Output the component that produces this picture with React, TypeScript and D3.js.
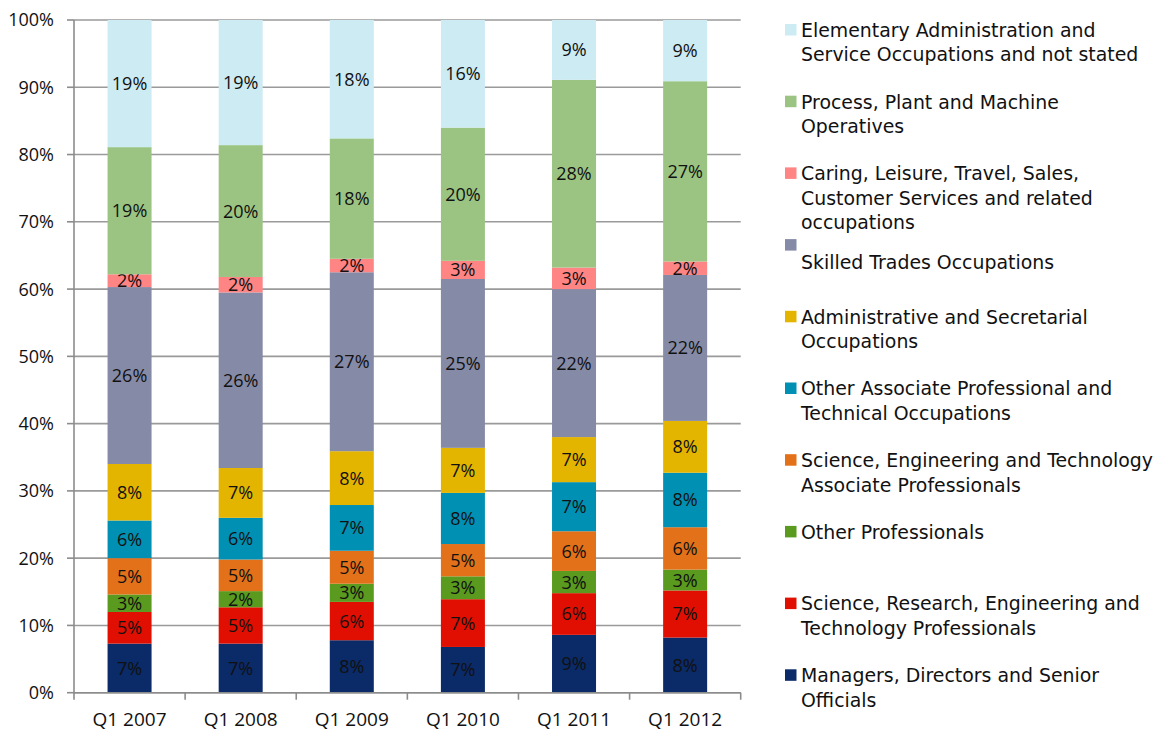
import React from "react";
import * as d3 from "d3";

const categories = ["Q1 2007", "Q1 2008", "Q1 2009", "Q1 2010", "Q1 2011", "Q1 2012"];

const managers = [7.3, 7.3, 7.8, 6.8, 8.6, 8.2];
const sciResearch = [4.7, 5.4, 5.7, 7.1, 6.2, 7.0];
const otherProf = [2.6, 2.4, 2.7, 3.4, 3.3, 3.1];
const sciEngAssoc = [5.4, 4.7, 4.9, 4.8, 5.9, 6.3];
const otherAssoc = [5.6, 6.2, 6.8, 7.6, 7.3, 8.1];
const admin = [8.4, 7.4, 8.0, 6.7, 6.7, 7.7];
const skilled = [26.3, 26.1, 26.6, 25.1, 22.0, 21.7];
const caring = [1.9, 2.3, 2.0, 2.7, 3.2, 2.0];
const process = [18.9, 19.6, 17.9, 19.8, 27.9, 26.8];
const elementary = [18.9, 18.6, 17.6, 16.0, 8.9, 9.1];

const yTicks = [0, 10, 20, 30, 40, 50, 60, 70, 80, 90, 100];

const series = [
  { name: ["Managers, Directors and Senior", "Officials"], values: managers, color: "#0A2A68" },
  { name: ["Science, Research, Engineering and", "Technology Professionals"], values: sciResearch, color: "#E10F02" },
  { name: ["Other Professionals"], values: otherProf, color: "#5A9A1E" },
  { name: ["Science, Engineering and Technology", "Associate Professionals"], values: sciEngAssoc, color: "#E3711A" },
  { name: ["Other Associate Professional and", "Technical Occupations"], values: otherAssoc, color: "#0090B3" },
  { name: ["Administrative and Secretarial", "Occupations"], values: admin, color: "#E4B500" },
  { name: ["", "Skilled Trades Occupations"], values: skilled, color: "#858AA7" },
  { name: ["Caring, Leisure, Travel, Sales,", "Customer Services and related", "occupations"], values: caring, color: "#FF8484" },
  { name: ["Process, Plant and Machine", "Operatives"], values: process, color: "#9BC483" },
  { name: ["Elementary Administration and", "Service Occupations and not stated"], values: elementary, color: "#CDEBF3" },
];

const W = 1162;
const H = 731;
const left = 74;
const right = 740.7;
const top = 20;
const bottom = 692.7;
const legendFont = "'DejaVu Sans', sans-serif";
const labelFont = "'Open Sans', sans-serif";

export default function App() {
  const x = d3.scaleBand<string>().domain(categories).range([left, right]).paddingInner(0.604).paddingOuter(0.302);
  const y = d3.scaleLinear().domain([0, 100]).range([bottom, top]);

  const rows = categories.map((c, i) => {
    const r: Record<string, any> = { cat: c };
    series.forEach((s, k) => (r["s" + k] = s.values[i]));
    return r;
  });
  const stack = d3.stack<any>().keys(series.map((_, k) => "s" + k));
  const stacked = stack(rows);

  const legendTop = 30;
  const legendStep = 71.7;
  const lineH = 24.5;

  return (
    <svg width={W} height={H} style={{ position: "absolute", left: 0, top: 0, display: "block", background: "#fff" }}>
      {yTicks.map((t) => (
        <line key={"g" + t} x1={left} x2={right} y1={y(t)} y2={y(t)} stroke="#9A9A9A" strokeWidth={1.6} />
      ))}
      {yTicks.map((t) => (
        <g key={"yt" + t}>
          <line x1={left - 7} x2={left} y1={y(t)} y2={y(t)} stroke="#8C8C8C" strokeWidth={1.6} />
          <text x={54} y={y(t)} dy="0.36em" textAnchor="end" fontFamily={labelFont} fontSize={18} fill="#111">
            {t + "%"}
          </text>
        </g>
      ))}
      {stacked.map((layer, k) => (
        <g key={"l" + k}>
          {layer.map((d, i) => {
            const y0 = y(d[0]);
            const y1 = y(d[1]);
            const v = series[k].values[i];
            return (
              <g key={i}>
                <rect x={x(categories[i])} y={y1} width={x.bandwidth()} height={y0 - y1} fill={series[k].color} />
                <text
                  x={(x(categories[i]) as number) + x.bandwidth() / 2}
                  y={(y0 + y1) / 2}
                  dy="0.36em"
                  textAnchor="middle"
                  fontFamily={labelFont}
                  fontSize={18}
                  fill="#111"
                >
                  {d3.format(".0f")(v) + "%"}
                </text>
              </g>
            );
          })}
        </g>
      ))}
      <line x1={left} x2={left} y1={top} y2={bottom + 1} stroke="#8C8C8C" strokeWidth={1.6} />
      <line x1={left} x2={right} y1={bottom} y2={bottom} stroke="#8C8C8C" strokeWidth={1.6} />
      {d3.range(categories.length + 1).map((i) => {
        const xx = left + i * x.step();
        return <line key={"xt" + i} x1={xx} x2={xx} y1={bottom} y2={bottom + 7} stroke="#8C8C8C" strokeWidth={1.6} />;
      })}
      {categories.map((c) => (
        <text key={c} x={(x(c) as number) + x.bandwidth() / 2} y={719} dy="0.36em" textAnchor="middle" fontFamily={labelFont} fontSize={19} fill="#111">
          {c}
        </text>
      ))}
      {series
        .slice()
        .reverse()
        .map((s, j) => {
          const cy = legendTop + j * legendStep;
          return (
            <g key={"lg" + j}>
              <rect x={785} y={cy - 6} width={11.5} height={11.5} fill={s.color} />
              {s.name.map((ln, li) => (
                <text key={li} x={801} y={cy + li * lineH - (j === 3 ? 7 : 0)} dy="0.36em" fontFamily={legendFont} fontSize={18.9} fill="#111">
                  {ln}
                </text>
              ))}
            </g>
          );
        })}
    </svg>
  );
}
